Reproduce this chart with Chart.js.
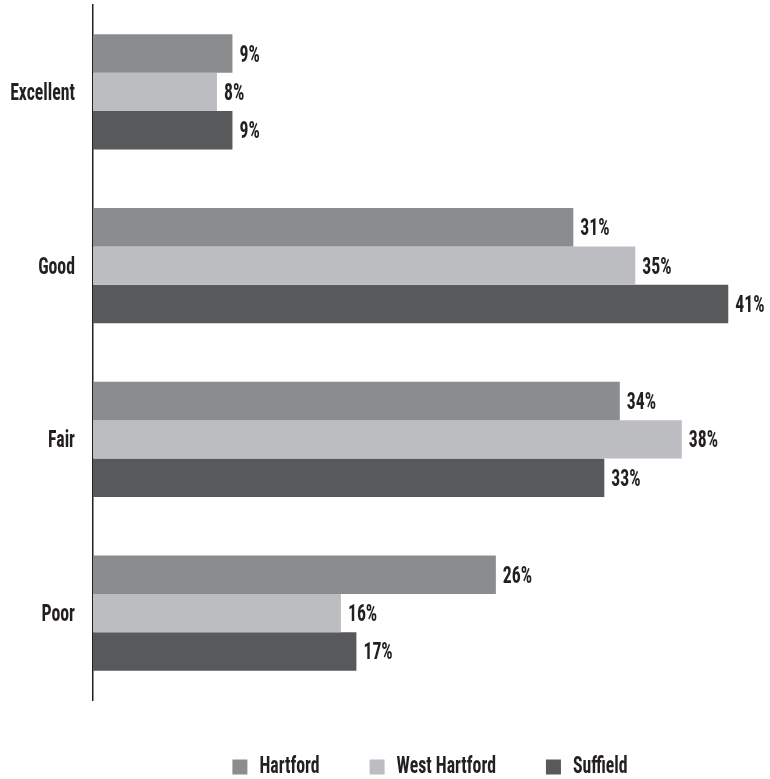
<!DOCTYPE html>
<html>
<head>
<meta charset="utf-8">
<title>Rating by town</title>
<script src="https://cdn.jsdelivr.net/npm/chart.js@4/dist/chart.umd.min.js"></script>
<style>
  html, body { margin: 0; padding: 0; background: #fff; }
  #wrap { width: 770px; height: 779px; position: relative; }
</style>
</head>
<body>
<div id="wrap"><canvas id="chart"></canvas></div>
<script>
  // ----- data -----
  const categories = ["Excellent", "Good", "Fair", "Poor"];
  const hartford = [9, 31, 34, 26];
  const westHartford = [8, 35, 38, 16];
  const suffield = [9, 41, 33, 17];
  const seriesNames = ["Hartford", "West Hartford", "Suffield"];

  const ink = "#231f20";
  const font = { family: "'Roboto Condensed', 'Open Sans Condensed', sans-serif", size: 24, weight: "bold" };
  const squeeze = 0.74; // extra horizontal squeeze for a tall gothic look

  // narrow every glyph the chart draws, and report narrowed widths for layout
  const narrowText = {
    id: "narrowText",
    beforeInit(chart) {
      const ctx = chart.ctx;
      const fill = ctx.fillText.bind(ctx);
      const measure = ctx.measureText.bind(ctx);
      ctx.fillText = function (text, x, y) {
        this.save();
        this.translate(x, y);
        this.scale(squeeze, 1);
        fill(text, 0, 0);
        this.restore();
      };
      ctx.measureText = function (text) {
        const m = measure(text);
        return {
          width: m.width * squeeze,
          actualBoundingBoxAscent: m.actualBoundingBoxAscent,
          actualBoundingBoxDescent: m.actualBoundingBoxDescent
        };
      };
    }
  };

  // value labels at the end of each bar
  const barValues = {
    id: "barValues",
    afterDatasetsDraw(chart) {
      const ctx = chart.ctx;
      ctx.save();
      ctx.font = `${font.weight} ${font.size}px ${font.family}`;
      ctx.fillStyle = ink;
      ctx.textAlign = "left";
      ctx.textBaseline = "middle";
      chart.data.datasets.forEach((ds, i) => {
        chart.getDatasetMeta(i).data.forEach((bar, j) => {
          ctx.fillText(ds.data[j] + "%", bar.x + 7, bar.y + 2);
        });
      });
      ctx.restore();
    }
  };

  // keep the legend short and centred under the plot area
  const legendFit = {
    id: "legendFit",
    beforeUpdate(chart) {
      const lg = chart.legend;
      if (!lg || lg._patched) return;
      const fit = lg.fit;
      lg.fit = function () { fit.call(this); this.height = 79; };
      lg._patched = true;
    },
    afterLayout(chart) {
      const lg = chart.legend;
      lg.left = chart.chartArea.left;
      lg.right = chart.chartArea.right;
      lg.top += 5;
    }
  };

  new Chart(document.getElementById("chart"), {
    type: "bar",
    data: {
      labels: categories,
      datasets: [
        { label: seriesNames[0], data: hartford, backgroundColor: "#8b8c8e" },
        { label: seriesNames[1], data: westHartford, backgroundColor: "#bcbdc0" },
        { label: seriesNames[2], data: suffield, backgroundColor: "#58595b" }
      ]
    },
    options: {
      indexAxis: "y",
      responsive: true,
      maintainAspectRatio: false,
      animation: false,
      borderWidth: 0,
      categoryPercentage: 0.662,
      barPercentage: 1,
      layout: { padding: { top: 5, right: 3, bottom: 0, left: 0 } },
      plugins: {
        tooltip: { enabled: false },
        legend: {
          position: "bottom",
          labels: { boxWidth: 15, boxHeight: 15, padding: 50, color: ink, font }
        }
      },
      scales: {
        x: { display: false, min: 0, max: 43.5 },
        y: {
          grid: { display: false, drawTicks: false },
          border: { display: true, color: ink, width: 1.5 },
          ticks: { color: ink, font, padding: 18, labelOffset: 2 },
          afterFit: s => { s.width = 93; s.paddingTop = 0; s.paddingBottom = 0; }
        }
      }
    },
    plugins: [narrowText, barValues, legendFit]
  });
</script>
</body>
</html>
